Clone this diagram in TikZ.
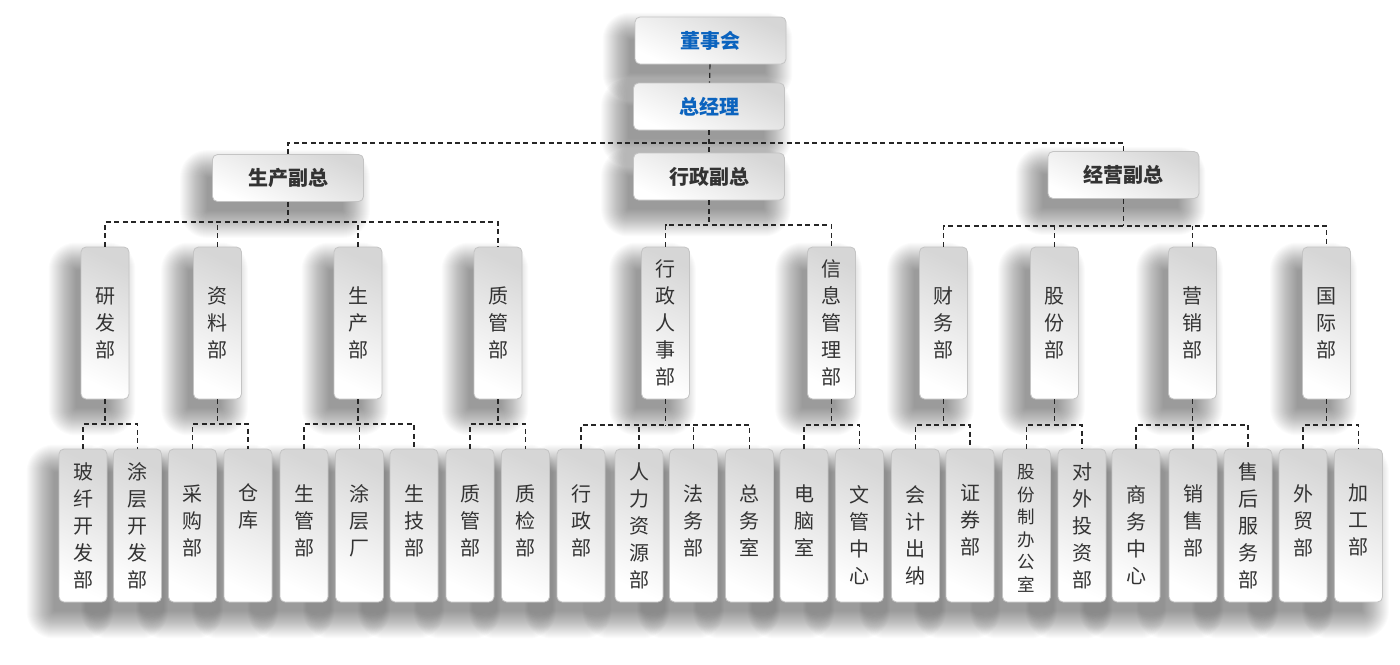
\documentclass[tikz,border=0pt]{standalone}
\usepackage{fontspec}
\setmainfont{Liberation Sans}
\newfontfamily\cjk{Noto Sans CJK SC}
\usetikzlibrary{calc}
\definecolor{txt}{HTML}{333333}
\definecolor{blu}{HTML}{0B63BE}
\definecolor{bord}{HTML}{C4C4C4}
\pgfdeclarelayer{bg}
\pgfdeclarelayer{shad}
\pgfsetlayers{bg,shad,main}
\tikzset{
  box/.style={rectangle, rounded corners=5pt, draw=bord, line width=0.8pt,
    top color=black!16, bottom color=white, shading angle=-25, inner sep=0pt},
  topbox/.style={box, minimum width=151pt, minimum height=47pt, text=txt,
    font=\cjk\bfseries\fontsize{20}{24}\selectfont},
  midbox/.style={box, minimum width=48pt, minimum height=152pt, text=txt, align=center,
    font=\cjk\fontsize{20}{27}\selectfont},
  lowbox/.style={box, minimum width=48pt, minimum height=153pt},
  lowtxt/.style={text=txt, align=center, inner sep=0pt, font=\cjk\fontsize{20}{27}\selectfont},
  conn/.style={draw=black!85, line width=1.2pt, dash pattern=on 5pt off 3.5pt},
  shadlayer/.style={fill=black, fill opacity=0.017}
}
\newcommand\orgbus[5]{%
  \draw[conn] (#1.south) -- (#1.south |- 0,#5);
  \draw[conn] (#2.north) -- (#2.north |- 0,#5) -- (#3.north |- 0,#5) -- (#3.north);
  \foreach \c in {#4} {\draw[conn] (\c.north) -- (\c.north |- 0,#5);}
}
\newcommand\softshadow[1]{%
  \foreach \k [evaluate=\k as \rr using {max(2,8+(\k))}] in {-8,...,19}{%
    \fill[shadlayer, rounded corners=\rr pt]
      ($(#1.north west)+({-13-(\k)},{15-(\k)})$) rectangle ($(#1.south east)+({-13+(\k)},{17+(\k)})$);}%
}
\begin{document}
\begin{tikzpicture}[x=1pt,y=-1pt]
\begin{pgfonlayer}{bg}
\fill[white] (0,0) rectangle (1400,664);
\end{pgfonlayer}
\useasboundingbox (0,0) rectangle (1400,664);

% top levels
\node[topbox, text=blu] (dsh) at (710.5,40.5) {董事会};
\node[topbox, text=blu] (zjl) at (709,106.5) {总经理};
\node[topbox] (scfz) at (288,178) {生产副总};
\node[topbox] (xzfz) at (709,176.5) {行政副总};
\node[topbox] (jyfz) at (1123.5,175) {经营副总};

% level 2
\node[midbox] (m1) at (105,323) {研\\发\\部};
\node[midbox] (m2) at (217.5,323) {资\\料\\部};
\node[midbox] (m3) at (358,323) {生\\产\\部};
\node[midbox] (m4) at (498,323) {质\\管\\部};
\node[midbox] (m5) at (665.5,323) {行\\政\\人\\事\\部};
\node[midbox] (m6) at (831.5,323) {信\\息\\管\\理\\部};
\node[midbox] (m7) at (943.5,323) {财\\务\\部};
\node[midbox] (m8) at (1054.5,323) {股\\份\\部};
\node[midbox] (m9) at (1192.5,323) {营\\销\\部};
\node[midbox] (m10) at (1326.5,323) {国\\际\\部};

% level 3 boxes
\foreach \n/\x in {1/83,2/137.5,3/192.5,4/248,5/304,6/359.5,7/414,8/470,9/525.5,10/581,11/639,12/693.5,
  13/749.5,14/804,15/859.5,16/915.5,17/970,18/1026.5,19/1082,20/1136,21/1193,22/1248,23/1303,24/1358.5}
  {\node[lowbox] (l\n) at (\x,525.5) {};}

% level 3 texts
\node[lowtxt] (t1) at (l1 |- 0,526) {玻\\纤\\开\\发\\部};
\node[lowtxt] (t2) at (l2 |- 0,526) {涂\\层\\开\\发\\部};
\node[lowtxt] (t3) at (l3 |- 0,520.5) {采\\购\\部};
\node[lowtxt] (t4) at (l4 |- 0,506.5) {仓\\库};
\node[lowtxt] (t5) at (l5 |- 0,520.5) {生\\管\\部};
\node[lowtxt] (t6) at (l6 |- 0,520.5) {涂\\层\\厂};
\node[lowtxt] (t7) at (l7 |- 0,520.5) {生\\技\\部};
\node[lowtxt] (t8) at (l8 |- 0,520.5) {质\\管\\部};
\node[lowtxt] (t9) at (l9 |- 0,520.5) {质\\检\\部};
\node[lowtxt] (t10) at (l10 |- 0,520.5) {行\\政\\部};
\node[lowtxt] (t11) at (l11 |- 0,526) {人\\力\\资\\源\\部};
\node[lowtxt] (t12) at (l12 |- 0,520.5) {法\\务\\部};
\node[lowtxt] (t13) at (l13 |- 0,520.5) {总\\务\\室};
\node[lowtxt] (t14) at (l14 |- 0,520.5) {电\\脑\\室};
\node[lowtxt] (t15) at (l15 |- 0,535) {文\\管\\中\\心};
\node[lowtxt] (t16) at (l16 |- 0,535) {会\\计\\出\\纳};
\node[lowtxt] (t17) at (l17 |- 0,520.5) {证\\券\\部};
\node[lowtxt, font=\cjk\fontsize{17.5}{22.6}\selectfont] (t18) at (l18 |- 0,528.5) {股\\份\\制\\办\\公\\室};
\node[lowtxt] (t19) at (l19 |- 0,526) {对\\外\\投\\资\\部};
\node[lowtxt] (t20) at (l20 |- 0,535) {商\\务\\中\\心};
\node[lowtxt] (t21) at (l21 |- 0,520.5) {销\\售\\部};
\node[lowtxt] (t22) at (l22 |- 0,526) {售\\后\\服\\务\\部};
\node[lowtxt] (t23) at (l23 |- 0,520.5) {外\\贸\\部};
\node[lowtxt] (t24) at (l24 |- 0,520.5) {加\\工\\部};

% soft shadows behind all boxes
\begin{pgfonlayer}{shad}
\foreach \b in {dsh,zjl,scfz,xzfz,jyfz,m1,m2,m3,m4,m5,m6,m7,m8,m9,m10,
  l1,l2,l3,l4,l5,l6,l7,l8,l9,l10,l11,l12,l13,l14,l15,l16,l17,l18,l19,l20,l21,l22,l23,l24}
  {\softshadow{\b}}
\end{pgfonlayer}

% connectors top
\draw[conn] (dsh) -- (zjl);
\draw[conn] (zjl) -- (xzfz);
\coordinate (bus0) at (709,143);
\draw[conn] (scfz.north) |- (bus0) -| (jyfz.north);

% level 2 buses
\orgbus{scfz}{m1}{m4}{m2,m3}{222}
\orgbus{xzfz}{m5}{m6}{m5}{225}
\orgbus{jyfz}{m7}{m10}{m8,m9}{226}

% level 3 buses
\orgbus{m1}{l1}{l2}{l1}{424}
\orgbus{m2}{l3}{l4}{l3}{424}
\orgbus{m3}{l5}{l7}{l6}{424}
\orgbus{m4}{l8}{l9}{l8}{424}
\orgbus{m5}{l10}{l13}{l11,l12}{425}
\orgbus{m6}{l14}{l15}{l14}{425}
\orgbus{m7}{l16}{l17}{l16}{425}
\orgbus{m8}{l18}{l19}{l18}{425}
\orgbus{m9}{l20}{l22}{l21}{425}
\orgbus{m10}{l23}{l24}{l23}{425}
\end{tikzpicture}
\end{document}
